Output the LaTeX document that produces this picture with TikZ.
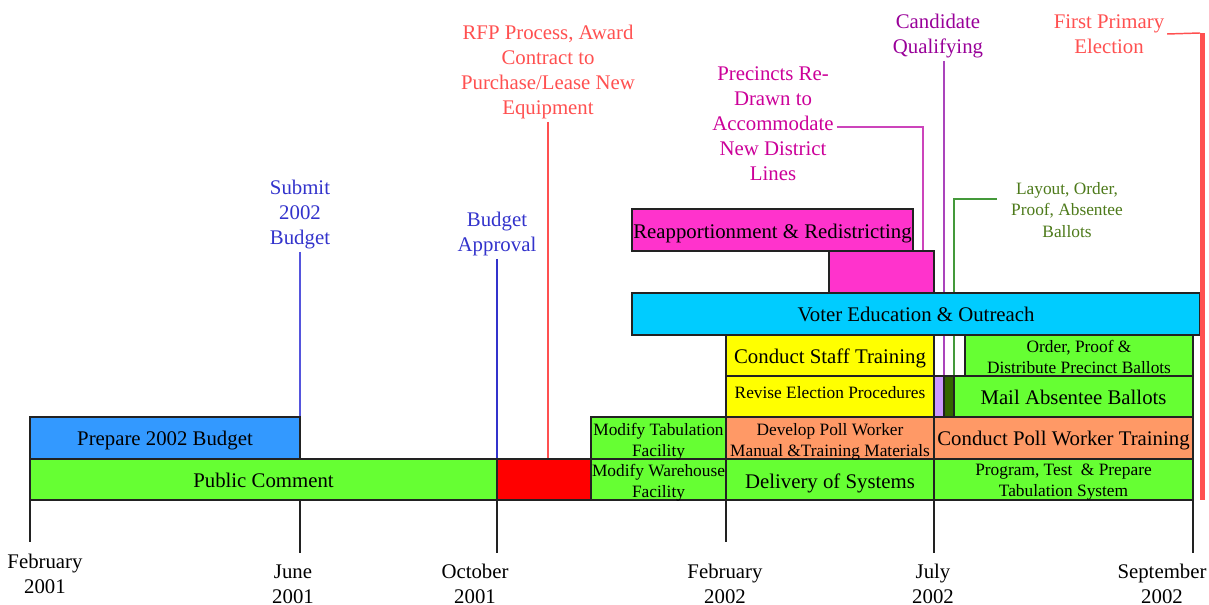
\documentclass[tikz,border=0pt]{standalone}
\usepackage{fontspec}
\setmainfont{Liberation Serif}
\usetikzlibrary{calc}
\pgfdeclarelayer{back}
\pgfdeclarelayer{bg}
\pgfsetlayers{back,bg,main}

\definecolor{cGreen}{HTML}{66FF33}
\definecolor{cBlue}{HTML}{3399FF}
\definecolor{cRed}{HTML}{FF0000}
\definecolor{cSalmon}{HTML}{FF9966}
\definecolor{cYellow}{HTML}{FFFF00}
\definecolor{cCyan}{HTML}{00CCFF}
\definecolor{cPink}{HTML}{FF33CC}
\definecolor{cLav}{HTML}{CC99FF}
\definecolor{cDkGreen}{HTML}{336600}
\definecolor{tBlue}{HTML}{3333CC}
\definecolor{tRed}{HTML}{FF5050}
\definecolor{tMag}{HTML}{CC0099}
\definecolor{tPurp}{HTML}{990099}
\definecolor{tOlive}{HTML}{4D7A1A}
\definecolor{lBlue}{HTML}{5555DD}
\definecolor{lMag}{HTML}{CC44BB}
\definecolor{lPurp}{HTML}{AA44BB}
\definecolor{lGreen}{HTML}{44993A}
\definecolor{edge}{HTML}{222222}

\newcommand\fmain{\fontsize{15.6pt}{18.75pt}\selectfont}
\newcommand\fsmall{\fontsize{13pt}{15.8pt}\selectfont}

% name, x1, y1, x2, y2, style, text, text shift (px, down)
\newcommand\tlbar[8]{%
  \node[bar, #6, minimum width={(#4-#2)*0.75pt}, minimum height={(#5-#3)*0.75pt}]
    (#1) at ({(#2+#4)/2},{(#3+#5)/2}) {};
  \node[bartext, #6, draw=none, fill=none] (#1-t) at ($(#1.center)+(0,#8)$) {#7};}

\tikzset{
  bar/.style={draw=edge, line width=1pt, inner sep=0pt, outer sep=0pt},
  bartext/.style={inner sep=0pt, align=center, font=\fmain, text=black},
  sm/.style={font=\fsmall},
  lbl/.style={align=center, font=\fmain, inner sep=2pt},
  axlbl/.style={align=center, font=\fmain, inner sep=0pt, text=black},
  tick/.style={draw=edge, line width=1.1pt},
  conn/.style={line width=1.1pt}
}

\begin{document}
\begin{tikzpicture}[x=0.75pt, y=-0.75pt]
\begin{pgfonlayer}{back}
\fill[white] (0,0) rectangle (1209,605);
\end{pgfonlayer}
\useasboundingbox (0,0) rectangle (1209,605);

% bars, bottom row upwards
\tlbar{pub}{30}{459}{497}{500}{fill=cGreen}{Public Comment}{1}
\tlbar{red}{497}{459}{591}{500}{fill=cRed}{}{0}
\tlbar{mwh}{591}{459}{726}{500}{fill=cGreen, sm}{Modify Warehouse\\Facility}{3}
\tlbar{del}{726}{459}{934}{500}{fill=cGreen}{Delivery of Systems}{4}
\tlbar{prog}{934}{459}{1193}{500}{fill=cGreen, sm}{Program, Test\ \ \& Prepare\\Tabulation System}{3}

\tlbar{prep}{30}{417}{300}{459}{fill=cBlue}{Prepare 2002 Budget}{3}
\tlbar{mtab}{591}{417}{726}{459}{fill=cGreen, sm}{Modify Tabulation\\Facility}{4}
\tlbar{dev}{726}{417}{934}{459}{fill=cSalmon, sm}{Develop Poll Worker\\Manual \&Training Materials}{3.5}
\tlbar{cpw}{934}{417}{1193}{459}{fill=cSalmon}{Conduct Poll Worker Training}{3}

\tlbar{rev}{726}{376}{934}{417}{fill=cYellow, sm}{Revise Election Procedures}{-4}
\tlbar{lav}{934}{376}{944}{417}{fill=cLav}{}{0}
\tlbar{dkg}{944}{376}{954}{417}{fill=cDkGreen}{}{0}
\tlbar{mail}{954}{376}{1193}{417}{fill=cGreen}{Mail Absentee Ballots}{1}

\tlbar{cst}{726}{335}{934}{376}{fill=cYellow}{Conduct Staff Training}{3}
\tlbar{ord}{965}{335}{1193}{376}{fill=cGreen, sm}{Order, Proof \&\\Distribute Precinct Ballots}{1.5}

\tlbar{voter}{632}{293}{1200}{335}{fill=cCyan}{Voter Education \& Outreach}{0}
\tlbar{pkb}{829}{251}{934}{293}{fill=cPink}{}{0}
\tlbar{reapp}{632}{209}{913}{251}{fill=cPink}{Reapportionment \& Redistricting}{4}

\node[draw=none, fill=tRed, inner sep=0pt, outer sep=0pt,
  minimum width=3.75pt, minimum height={467*0.75pt}] (elec) at (1202.5,266.5) {};

% milestone labels
\node[lbl, text=tBlue] (submit) at (300,214.5) {Submit\\2002\\Budget};
\node[lbl, text=tBlue] (bapp) at (497,234) {Budget\\Approval};
\node[lbl, text=tRed] (rfp) at (548,72) {RFP Process, Award\\Contract to\\Purchase/Lease New\\Equipment};
\node[lbl, text=tMag] (prec) at (773,124) {Precincts Re-\\Drawn to\\Accommodate\\New District\\Lines};
\node[lbl, text=tPurp] (cand) at (938,36) {Candidate\\Qualifying};
\node[lbl, text=tRed] (fpe) at (1109,34) {First Primary\\Election};
\node[lbl, text=tOlive, font=\fontsize{13pt}{16.1pt}\selectfont] (layout) at (1067,210) {Layout, Order,\\Proof, Absentee\\Ballots};

% connectors (behind the bars)
\begin{pgfonlayer}{bg}
\draw[conn, lBlue, line width=1.4pt] (submit.south) -- (prep.north east);
\draw[conn, tBlue, line width=0.8pt] (bapp.south) -- (pub.north east);
\draw[conn, tRed, line width=0.9pt] (rfp.south) -- (rfp.south |- red.north);
\draw[conn, lMag] ($(prec.east)+(0,3)$) -| ($(pkb.north east)+(-11,0)$);
\draw[conn, lPurp] (cand.south -| lav.north east) -- (lav.north east);
\draw[conn, lGreen] ($(layout.west)+(-11,-11)$) -| (dkg.north east);
\draw[conn, tRed] (fpe.east) -- (elec.north west);
\end{pgfonlayer}

% time axis
\draw[tick] (pub.south west) -- ++(0,42);
\draw[tick] (prep.north east |- pub.south) -- ++(0,53);
\draw[tick] (pub.south east) -- ++(0,53);
\draw[tick] (del.south west) -- ++(0,42);
\draw[tick] (del.south east) -- ++(0,53);
\draw[tick] (prog.south east) -- ++(0,53);

\node[axlbl] (ax1) at (45,573.5) {February\\2001};
\node[axlbl] (ax2) at (293,584) {June\\2001};
\node[axlbl] (ax3) at (475,584) {October\\2001};
\node[axlbl] (ax4) at (725,584) {February\\2002};
\node[axlbl] (ax5) at (933,584) {July\\2002};
\node[axlbl] (ax6) at (1162,584) {September\\2002};
\end{tikzpicture}
\end{document}
